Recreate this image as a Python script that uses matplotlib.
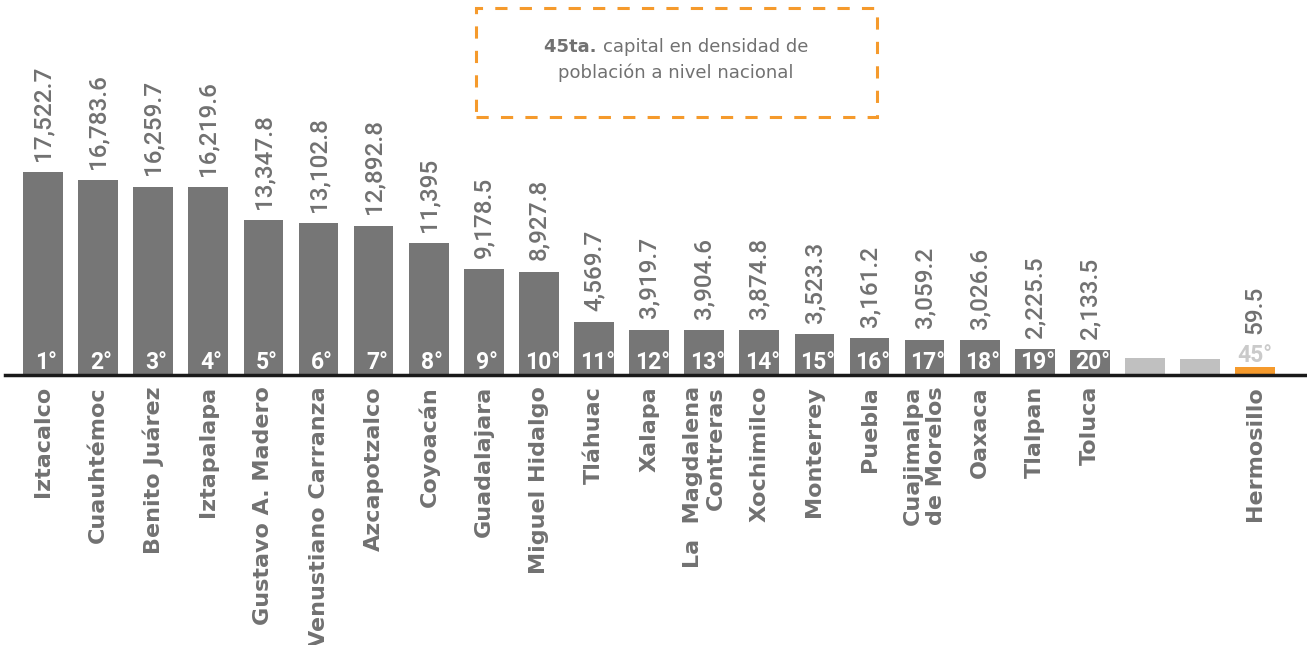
import matplotlib
matplotlib.use("Agg")
import matplotlib.pyplot as plt
from matplotlib.patches import Rectangle

# data
cities = ["Iztacalco", "Cuauhtémoc", "Benito Juárez", "Iztapalapa", "Gustavo A. Madero",
          "Venustiano Carranza", "Azcapotzalco", "Coyoacán", "Guadalajara", "Miguel Hidalgo",
          "Tláhuac", "Xalapa", "La  Magdalena\nContreras", "Xochimilco", "Monterrey",
          "Puebla", "Cuajimalpa\nde Morelos", "Oaxaca", "Tlalpan", "Toluca",
          "", "", "Hermosillo"]
density = [17522.7, 16783.6, 16259.7, 16219.6, 13347.8, 13102.8, 12892.8, 11395,
           9178.5, 8927.8, 4569.7, 3919.7, 3904.6, 3874.8, 3523.3, 3161.2, 3059.2,
           3026.6, 2225.5, 2133.5, 1450, 1350, 59.5]
value_labels = ["17,522.7", "16,783.6", "16,259.7", "16,219.6", "13,347.8", "13,102.8",
                "12,892.8", "11,395", "9,178.5", "8,927.8", "4,569.7", "3,919.7", "3,904.6",
                "3,874.8", "3,523.3", "3,161.2", "3,059.2", "3,026.6", "2,225.5", "2,133.5",
                "", "", "59.5"]
ranks = ["1°", "2°", "3°", "4°", "5°", "6°", "7°", "8°", "9°", "10°", "11°", "12°", "13°",
         "14°", "15°", "16°", "17°", "18°", "19°", "20°", "", "", "45°"]
kind = ["top"] * 20 + ["gap", "gap", "focus"]

DARK = "#767676"
LIGHT = "#c0c0c0"
ORANGE = "#f59a2c"
TEXT = "#717171"
MIN_H = 650  # focus bar is too small to see otherwise
NUMF = ["Roboto", "DejaVu Sans"]

plt.rcParams["font.family"] = ["DejaVu Sans"]

fig = plt.figure(figsize=(13.07, 6.45), dpi=100)
ax = fig.add_axes([5 / 1307, 270 / 645, 1302 / 1307, 375 / 645])
ax.set_xlim(-0.69, 22.94)
ax.set_ylim(0, 32355)

colors = {"top": DARK, "gap": LIGHT, "focus": ORANGE}
x = list(range(len(cities)))
heights = [max(v, MIN_H) for v in density]
ax.bar(x, heights, width=0.72, color=[colors[k] for k in kind], zorder=2)

for i, (h, lab, rk, k) in enumerate(zip(heights, value_labels, ranks, kind)):
    if k == "top":
        ax.annotate(lab, (i, h), xytext=(0, 8), textcoords="offset points", rotation=90,
                    ha="center", va="bottom", fontsize=17.5, color=TEXT, family=NUMF,
                    fontweight="medium")
        ax.annotate(rk, (i + 0.06, 0), xytext=(0, 0.5), textcoords="offset points",
                    ha="center", va="bottom", fontsize=16.5, color="white", fontweight="bold",
                    family=NUMF)
    elif k == "focus":
        ax.annotate(rk, (i, h), xytext=(0, 0.5), textcoords="offset points",
                    ha="center", va="bottom", fontsize=16.5, color="#cacaca", fontweight="bold",
                    family=NUMF)
        ax.annotate(lab, (i, h), xytext=(0, 24), textcoords="offset points", rotation=90,
                    ha="center", va="bottom", fontsize=17.5, color=TEXT, family=NUMF,
                    fontweight="medium")

ax.set_xticks(x)
ax.set_xticklabels(cities, rotation=90, ha="center", va="top", multialignment="right",
                   fontsize=16, fontweight="bold", color=TEXT)
ax.tick_params(axis="x", length=0, pad=8)
ax.set_yticks([])
for s in ["top", "right", "left"]:
    ax.spines[s].set_visible(False)
ax.spines["bottom"].set_linewidth(2.5)
ax.spines["bottom"].set_color("#1a1a1a")
ax.spines["bottom"].set_zorder(3)

# dashed callout box
box = Rectangle((476 / 1307, 1 - 117 / 645), 401 / 1307, 109 / 645, transform=fig.transFigure,
                fill=False, edgecolor=ORANGE, linewidth=2.2, linestyle=(0, (4, 4)))
fig.patches.append(box)

# first line: bold lead word followed by regular text, centred together
r = fig.canvas.get_renderer()
t1 = fig.text(0, 1 - 47 / 645, "45ta. ", fontsize=13, fontweight="bold", color=TEXT,
              ha="left", va="center")
t2 = fig.text(0, 1 - 47 / 645, "capital en densidad de", fontsize=13, color=TEXT,
              ha="left", va="center")
w1 = t1.get_window_extent(r).width
w2 = t2.get_window_extent(r).width
x0 = 676 - (w1 + w2) / 2
t1.set_x(x0 / 1307)
t2.set_x((x0 + w1) / 1307)
fig.text(676 / 1307, 1 - 73 / 645, "población a nivel nacional", fontsize=13, color=TEXT,
         ha="center", va="center")

fig.savefig("out.png", dpi=100)
